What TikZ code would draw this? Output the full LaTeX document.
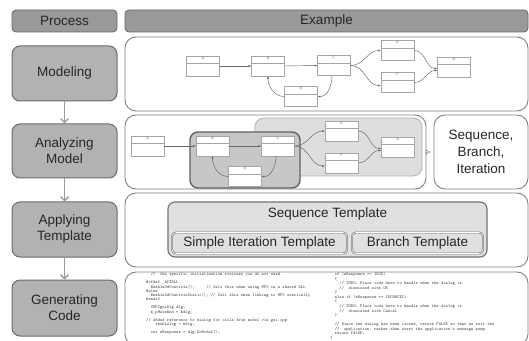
\documentclass[tikz,border=0pt]{standalone}
\usepackage{fontspec}
\setmainfont{Liberation Sans}
\usetikzlibrary{arrows.meta}
\begin{document}
\begin{tikzpicture}[x=1pt,y=1pt,
  bigfont/.style={font=\fontsize{13.5}{16}\selectfont},
  hdr/.style={draw=black!60, fill=black!40, line width=0.8pt, rounded corners=4pt,
    minimum height=22pt, inner sep=0pt, bigfont, text=black!85},
  proc/.style={draw=black!58, fill=black!30, line width=1pt, rounded corners=8pt,
    minimum width=105pt, inner sep=0pt, align=center, bigfont, text=black!85},
  panel/.style={draw=black!50, fill=white, line width=0.9pt, rounded corners=11pt, inner sep=0pt},
  flowarr/.style={draw=black!40, line width=1.3pt, -{Straight Barb[length=4pt,width=8pt]}},
  lbl/.style={font=\fontsize{3.6}{4}\selectfont, text=black!60, inner sep=0.8pt, anchor=north},
  cls/.style={draw=black!35, fill=white, line width=0.5pt, minimum width=33pt,
    minimum height=20pt, inner sep=0pt,
    path picture={\draw[black!35,line width=0.4pt]
      ([yshift=-7.5pt]path picture bounding box.north west) --
      ([yshift=-7.5pt]path picture bounding box.north east);},
    label={[lbl]north:#1}},
  conn/.style={draw=black!60, line width=0.45pt, -{Latex[length=2.6pt,width=2.1pt]}},
  tmpl/.style={draw=black!55, double=white, double distance=0.6pt, line width=0.6pt,
    fill=black!12, rounded corners=4pt, minimum height=21pt, inner sep=0pt, bigfont, text=black!85},
  codetxtL/.style={font=\ttfamily\fontsize{4.35}{4.17}\selectfont, align=left, inner sep=0pt, text=black!75},
  codetxtR/.style={font=\ttfamily\fontsize{4.35}{4.56}\selectfont, align=left, inner sep=0pt, text=black!75}
]
\useasboundingbox (0,0) rectangle (529,340);

% headers
\node[hdr, minimum width=105pt] (hproc) at (64.5,319) {Process};
\node[hdr, minimum width=403pt] (hex) at (326.5,319) {Example};

% process column
\node[proc, minimum height=55pt] (pmod) at (64.5,266.5) {Modeling};
\node[proc, minimum height=54pt] (pana) at (64.5,189) {Analyzing\\Model};
\node[proc, minimum height=55pt] (papp) at (64.5,110.5) {Applying\\Template};
\node[proc, minimum height=56pt] (pgen) at (64.5,32) {Generating\\Code};
\draw[flowarr] (pmod.south) -- (pana.north);
\draw[flowarr] (pana.south) -- (papp.north);
\draw[flowarr] (papp.south) -- (pgen.north);

% panels
\node[panel, minimum width=403pt, minimum height=74pt] (xmod) at (326.5,266) {};
\node[panel, minimum width=301pt, minimum height=74pt] (xana) at (275.5,188) {};
\node[panel, minimum width=94pt, minimum height=74pt, align=center,
  font=\fontsize{13.5}{17}\selectfont, text=black!85] (xsbi) at (481,188) {Sequence,\\Branch,\\Iteration};
\node[panel, minimum width=403pt, minimum height=74pt] (xapp) at (326.5,110) {};
\node[panel, minimum width=403pt, minimum height=73pt] (xgen) at (326.5,31.5) {};

% modeling diagram
\node[cls=A] (mA) at (203,274) {};
\node[cls=B] (mB) at (268,274) {};
\node[cls=C] (mC) at (334,274.5) {};
\node[cls=D] (mD) at (301,243.5) {};
\node[cls=E] (mE) at (397.5,289.5) {};
\node[cls=F] (mF) at (397.5,257.5) {};
\node[cls=G] (mG) at (454,273) {};
\draw[conn] (mA.east) -- (mB.west);
\draw[conn] (mB.east) -- (mC.west);
\draw[conn] (mC.east) to[out=0,in=180] (mE.west);
\draw[conn] (mC.east) to[out=0,in=180] ([yshift=-3pt]mF.west);
\draw[conn] (mE.east) to[out=0,in=180] ([yshift=-1.5pt]mG.west);
\draw[conn] (mF.east) to[out=0,in=180] ([yshift=-3.5pt]mG.west);
\draw[conn] ([xshift=-2pt]mC.south) to[out=-90,in=0] (mD.east);
\draw[conn] (mD.west) to[out=180,in=-90] (mB.south);

% analyzing diagram
\node[draw=black!30, fill=black!13, line width=0.8pt, rounded corners=9pt,
  minimum width=167pt, minimum height=58pt, inner sep=0pt] (glight) at (338.5,193) {};
\node[draw=black!62, fill=black!22, line width=1.4pt, rounded corners=8pt,
  minimum width=110pt, minimum height=56pt, inner sep=0pt] (gdark) at (245,180) {};
\node[cls=A] (aA) at (147.5,194) {};
\node[cls=B] (aB) at (212.5,194) {};
\node[cls=C] (aC) at (278,194) {};
\node[cls=D] (aD) at (245,163.5) {};
\node[cls=E] (aE) at (341.5,209) {};
\node[cls=F] (aF) at (341.5,177) {};
\node[cls=G] (aG) at (398,193) {};
\draw[conn] (aA.east) -- (aB.west);
\draw[conn] (aB.east) -- (aC.west);
\draw[conn] (aC.east) to[out=0,in=180] (aE.west);
\draw[conn] (aC.east) to[out=0,in=180] ([yshift=-3pt]aF.west);
\draw[conn] (aE.east) to[out=0,in=180] ([yshift=-1.5pt]aG.west);
\draw[conn] (aF.east) to[out=0,in=180] ([yshift=-3.5pt]aG.west);
\draw[conn] ([xshift=-2pt]aC.south) to[out=-90,in=0] (aD.east);
\draw[conn] (aD.west) to[out=180,in=-90] (aB.south);
\draw[draw=black!45, line width=0.6pt, shorten >=3pt,
  -{Triangle[open,length=5pt,width=5pt]}] (xana.east) -- (xsbi.west);

% applying template
\node[draw=black!55, fill=black!12, line width=1.1pt, rounded corners=7pt,
  minimum width=319pt, minimum height=55pt, inner sep=0pt] (tseq) at (327.5,110.5) {};
\node[bigfont, text=black!85, inner sep=0pt] (tseqlbl) at (327.5,126) {Sequence Template};
\node[tmpl, minimum width=175pt] (titer) at (259.5,97) {Simple Iteration Template};
\node[tmpl, minimum width=131pt] (tbr) at (417.5,97) {Branch Template};

% generating code
\node[codetxtL, anchor=north west] (codeL) at (146,67.7) {%
~~//~~the specific initialization routines you do not need.\\
\mbox{}\\
\#ifdef \_AFXDLL\\
~~Enable3dControls();~~~~~// Call this when using MFC in a shared DLL\\
\#else\\
~~Enable3dControlsStatic(); // Call this when linking to MFC statically\\
\#endif\\
\mbox{}\\
~~CMFCguiDlg dlg;\\
~~m\_pMainWnd = \&dlg;\\
\mbox{}\\
// Added reference to dialog for calls from model via gui.cpp\\
~~~~theDialog = \&dlg;\\
\mbox{}\\
~~int nResponse = dlg.DoModal();};
\node[codetxtR, anchor=north west] (codeR) at (330,67.7) {%
~~if (nResponse == IDOK)\\
~~\{\\
~~~~// TODO: Place code here to handle when the dialog is\\
~~~~//~~dismissed with OK\\
~~\}\\
~~else if (nResponse == IDCANCEL)\\
~~\{\\
~~~~// TODO: Place code here to handle when the dialog is\\
~~~~//~~dismissed with Cancel\\
~~\}\\
\mbox{}\\
~~// Since the dialog has been closed, return FALSE so that we exit the\\
~~//~~application, rather than start the application's message pump.\\
~~return FALSE;\\
\}};
\end{tikzpicture}
\end{document}
